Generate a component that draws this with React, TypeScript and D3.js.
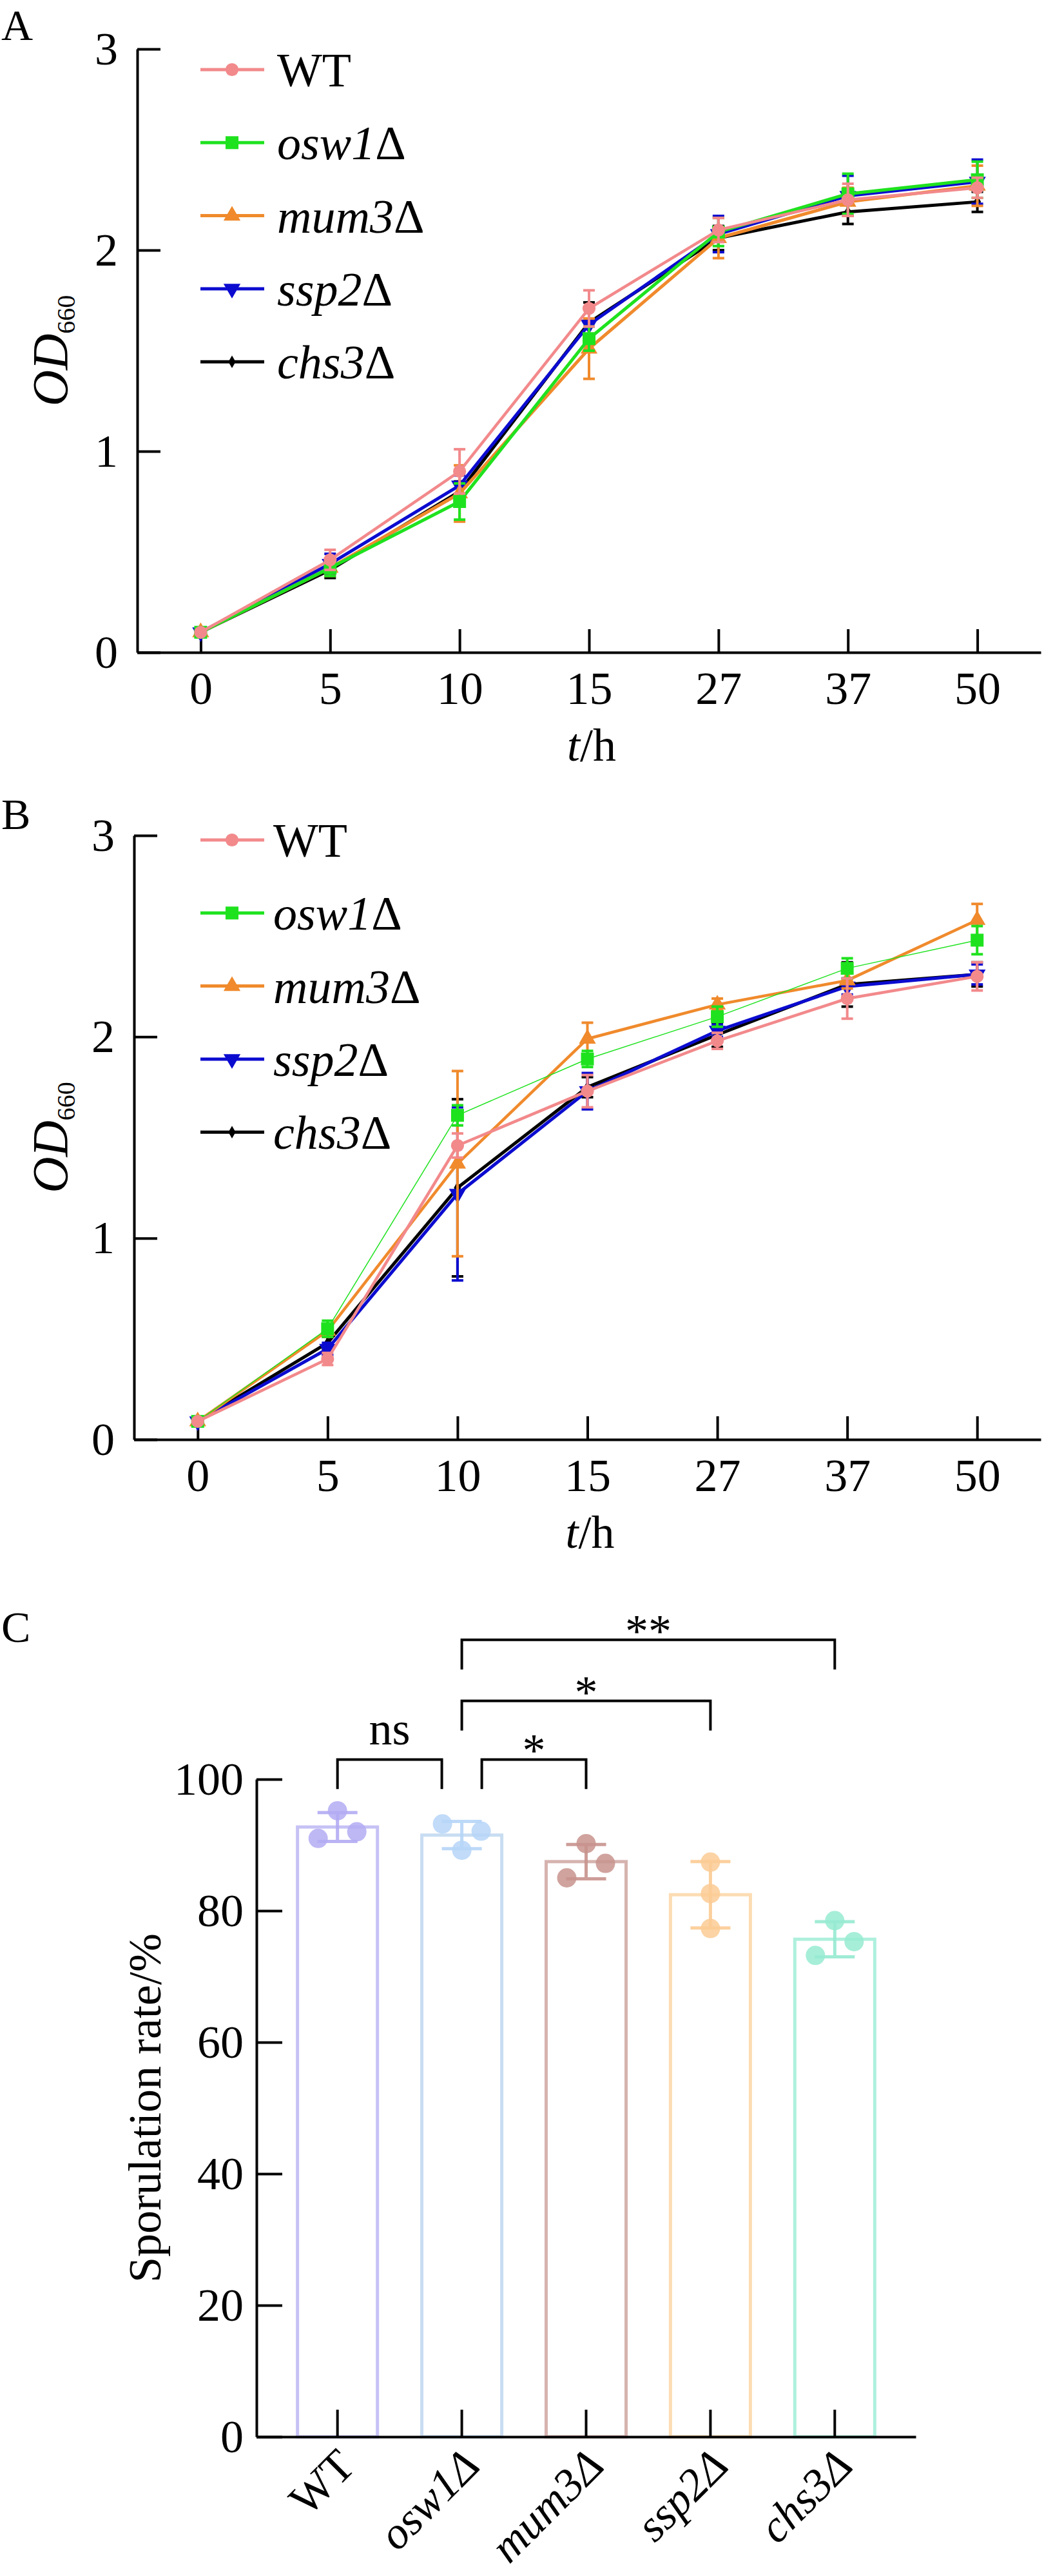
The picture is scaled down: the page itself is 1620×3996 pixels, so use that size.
import React, { useEffect, useRef } from "react";
import * as d3 from "d3";

const FONT = "'Liberation Serif', 'Times New Roman', serif";

// shared
const timePoints = ["0", "5", "10", "15", "27", "37", "50"];
const strains = ["WT", "osw1Δ", "mum3Δ", "ssp2Δ", "chs3Δ"];
const lineColors = ["#f2898b", "#1fe21f", "#f08a2c", "#0b0bd0", "#000000"];

// panel A, OD660 means
const aWT = [0.1, 0.46, 0.9, 1.71, 2.1, 2.25, 2.31];
const aOsw1 = [0.1, 0.42, 0.75, 1.56, 2.09, 2.28, 2.35];
const aMum3 = [0.1, 0.42, 0.79, 1.51, 2.06, 2.24, 2.32];
const aSsp2 = [0.1, 0.44, 0.83, 1.63, 2.08, 2.27, 2.34];
const aChs3 = [0.1, 0.41, 0.8, 1.64, 2.06, 2.19, 2.24];
// panel A, SD
const aWTsd = [0.01, 0.05, 0.11, 0.09, 0.06, 0.08, 0.05];
const aOsw1sd = [0.01, 0.04, 0.09, 0.06, 0.07, 0.1, 0.09];
const aMum3sd = [0.01, 0.04, 0.14, 0.15, 0.1, 0.07, 0.1];
const aSsp2sd = [0.01, 0.05, 0.05, 0.08, 0.09, 0.1, 0.11];
const aChs3sd = [0.01, 0.04, 0.05, 0.1, 0.06, 0.06, 0.05];

// panel B, OD660 means
const bWT = [0.09, 0.4, 1.46, 1.73, 1.98, 2.19, 2.3];
const bOsw1 = [0.09, 0.55, 1.61, 1.89, 2.1, 2.34, 2.48];
const bMum3 = [0.09, 0.54, 1.37, 1.99, 2.16, 2.28, 2.58];
const bSsp2 = [0.09, 0.45, 1.22, 1.73, 2.03, 2.25, 2.31];
const bChs3 = [0.09, 0.48, 1.25, 1.75, 2.01, 2.26, 2.31];
// panel B, SD
const bWTsd = [0.01, 0.03, 0.06, 0.08, 0.04, 0.1, 0.07];
const bOsw1sd = [0.01, 0.04, 0.05, 0.04, 0.05, 0.05, 0.07];
const bMum3sd = [0.01, 0.03, 0.46, 0.08, 0.03, 0.04, 0.08];
const bSsp2sd = [0.01, 0.03, 0.43, 0.09, 0.03, 0.04, 0.05];
const bChs3sd = [0.01, 0.03, 0.44, 0.05, 0.06, 0.11, 0.06];

// panel C, sporulation rate replicates (%)
const cWT = [95.2, 91.0, 92.0];
const cOsw1 = [93.2, 92.1, 89.2];
const cMum3 = [90.2, 87.2, 85.0];
const cSsp2 = [87.4, 82.6, 77.3];
const cChs3 = [78.5, 75.3, 73.2];
const dotSlots = [
  [0, -1, 1],
  [-1, 1, 0],
  [0, 1, -1],
  [0, 0, 0],
  [0, 1, -1],
];
const barStroke = ["#c6c2f5", "#c8ddf2", "#d6b3af", "#fcdcb3", "#aef0dd"];
const dotFill = ["#b3abf3", "#b6d5f8", "#c8938d", "#fccb94", "#96ebd1"];

// significance
const sigPairs = [
  ["WT", "osw1Δ"],
  ["osw1Δ", "mum3Δ"],
  ["osw1Δ", "ssp2Δ"],
  ["osw1Δ", "chs3Δ"],
];
const sigLabels = ["ns", "*", "*", "**"];
const sigLevels = [103, 103, 111.9, 121.2];

function strainText(sel: any, name: string, italicDelta: boolean) {
  if (name === "WT") {
    sel.append("tspan").text(name);
    return;
  }
  sel.append("tspan").attr("font-style", "italic").text(name.slice(0, -1));
  sel
    .append("tspan")
    .attr("font-style", italicDelta ? "italic" : "normal")
    .text("Δ");
}

function addMarker(g: any, i: number, cx: number, cy: number, color: string) {
  const types = [
    d3.symbolCircle,
    d3.symbolSquare,
    d3.symbolTriangle,
    d3.symbolTriangle,
    d3.symbolDiamond,
  ];
  const sizes = [320, 400, 300, 300, 110];
  g.append("path")
    .attr("d", d3.symbol().type(types[i]).size(sizes[i])() as string)
    .attr(
      "transform",
      `translate(${cx},${cy})${i === 3 ? " rotate(180)" : ""}`
    )
    .attr("fill", color);
}

function styleAxis(a: any) {
  a.attr("font-size", 72).attr("font-family", FONT);
  a.selectAll("path,line").attr("stroke", "#000").attr("stroke-width", 4);
  a.selectAll("text").attr("fill", "#000");
}

function drawGrowth(svg: any, p: any) {
  const x = d3
    .scalePoint<string>()
    .domain(timePoints)
    .range([p.left, p.right])
    .padding(0.49);
  const y = d3.scaleLinear().domain([0, 3]).range([p.bottom, p.top]);
  const g = svg.append("g");

  const xAxis = g
    .append("g")
    .attr("transform", `translate(0,${p.bottom})`)
    .call(
      d3.axisBottom(x).tickSizeInner(-36).tickSizeOuter(0).tickPadding(29)
    );
  const yAxis = g
    .append("g")
    .attr("transform", `translate(${p.left},0)`)
    .call(
      d3
        .axisLeft(y)
        .tickValues([0, 1, 2, 3])
        .tickFormat(d3.format("d"))
        .tickSizeInner(-36)
        .tickSizeOuter(0)
        .tickPadding(30)
    );
  styleAxis(xAxis);
  styleAxis(yAxis);

  const line = d3
    .line<number>()
    .x((_, i) => x(timePoints[i]) as number)
    .y((d) => y(d));

  const order = [4, 3, 2, 1, 0];
  order.forEach((s) => {
    const m = p.means[s];
    const sd = p.sds[s];
    const col = lineColors[s];
    const eg = g.append("g").attr("stroke", col).attr("stroke-width", 4);
    m.forEach((v: number, i: number) => {
      const cx = x(timePoints[i]) as number;
      const lo = y(v - sd[i]);
      const hi = y(v + sd[i]);
      eg.append("line").attr("x1", cx).attr("x2", cx).attr("y1", lo).attr("y2", hi);
      eg.append("line").attr("x1", cx - 9).attr("x2", cx + 9).attr("y1", lo).attr("y2", lo);
      eg.append("line").attr("x1", cx - 9).attr("x2", cx + 9).attr("y1", hi).attr("y2", hi);
    });
    g.append("path")
      .datum(m)
      .attr("d", line)
      .attr("fill", "none")
      .attr("stroke", col)
      .attr("stroke-width", p.widths[s])
      .attr("stroke-linejoin", "round");
    m.forEach((v: number, i: number) =>
      addMarker(g, s, x(timePoints[i]) as number, y(v), col)
    );
  });

  // legend
  const lg = g.append("g");
  strains.forEach((name, i) => {
    const ly = p.legendY + i * 113.3;
    lg.append("line")
      .attr("x1", 311)
      .attr("x2", 410)
      .attr("y1", ly)
      .attr("y2", ly)
      .attr("stroke", lineColors[i])
      .attr("stroke-width", 5);
    addMarker(lg, i, 360, ly, lineColors[i]);
    const t = lg
      .append("text")
      .attr("x", p.legendTextX)
      .attr("y", ly)
      .attr("dy", "0.35em")
      .attr("font-size", 74)
      .attr("font-family", FONT);
    strainText(t, name, false);
  });

  // axis titles
  const od = g
    .append("text")
    .attr("transform", `translate(104,${(p.top + p.bottom) / 2}) rotate(-90)`)
    .attr("text-anchor", "middle")
    .attr("font-family", FONT);
  od.append("tspan").attr("font-style", "italic").attr("font-size", 78).text("OD");
  od.append("tspan").attr("font-size", 40).attr("dy", 12).text("660");

  const th = g
    .append("text")
    .attr("x", (p.left + p.right) / 2 + 4)
    .attr("y", p.bottom + 168)
    .attr("text-anchor", "middle")
    .attr("font-size", 72)
    .attr("font-family", FONT);
  th.append("tspan").attr("font-style", "italic").text("t");
  th.append("tspan").text("/h");

  g.append("text")
    .attr("x", 2)
    .attr("y", p.panelY)
    .attr("font-size", 68)
    .attr("font-family", FONT)
    .text(p.panel);
}

function drawSporulation(svg: any) {
  const reps = [cWT, cOsw1, cMum3, cSsp2, cChs3];
  const left = 398;
  const right = 1421;
  const bottom = 3780;
  const top = 2760;
  const x = d3
    .scaleBand<string>()
    .domain(strains)
    .range([left, right])
    .paddingInner(0.357)
    .paddingOuter(0.33);
  const y = d3.scaleLinear().domain([0, 100]).range([bottom, top]);
  const bw = x.bandwidth();
  const g = svg.append("g");

  strains.forEach((s, i) => {
    const vals = reps[i];
    const mean = d3.mean(vals) as number;
    const sd = d3.deviation(vals) as number;
    const cx = (x(s) as number) + bw / 2;
    g.append("rect")
      .attr("x", x(s) as number)
      .attr("y", y(mean))
      .attr("width", bw)
      .attr("height", y(0) - y(mean))
      .attr("fill", "#fff")
      .attr("stroke", barStroke[i])
      .attr("stroke-width", 5);
    const eg = g
      .append("g")
      .attr("stroke", dotFill[i])
      .attr("stroke-width", 5)
      .attr("opacity", 0.9);
    eg.append("line").attr("x1", cx).attr("x2", cx).attr("y1", y(mean - sd)).attr("y2", y(mean + sd));
    [mean - sd, mean + sd].forEach((v) =>
      eg.append("line").attr("x1", cx - 31).attr("x2", cx + 31).attr("y1", y(v)).attr("y2", y(v))
    );
    vals.forEach((v, k) =>
      g.append("circle")
        .attr("cx", cx + dotSlots[i][k] * 30)
        .attr("cy", y(v))
        .attr("r", 15)
        .attr("fill", dotFill[i])
        .attr("opacity", 0.85)
    );
  });

  const xAxis = g
    .append("g")
    .attr("transform", `translate(0,${bottom})`)
    .call(
      d3
        .axisBottom(x)
        .tickSizeInner(-42)
        .tickSizeOuter(0)
        .tickFormat(() => "")
    );
  const yAxis = g
    .append("g")
    .attr("transform", `translate(${left},0)`)
    .call(
      d3
        .axisLeft(y)
        .tickValues([0, 20, 40, 60, 80, 100])
        .tickSizeInner(-40)
        .tickSizeOuter(0)
        .tickPadding(20)
    );
  styleAxis(xAxis);
  styleAxis(yAxis);

  strains.forEach((s) => {
    const cx = (x(s) as number) + bw / 2;
    const t = g
      .append("text")
      .attr("transform", `translate(${cx - 4},${bottom + 14}) rotate(-45)`)
      .attr("text-anchor", "end")
      .attr("dy", "0.7em")
      .attr("font-size", 70)
      .attr("font-family", FONT);
    strainText(t, s, true);
  });

  // significance brackets
  const insets = [
    [0, -1],
    [1, 0],
    [0, 0],
    [0, 0],
  ];
  sigPairs.forEach((pair, i) => {
    const x1 = (x(pair[0]) as number) + bw / 2 + insets[i][0] * bw * 0.25;
    const x2 = (x(pair[1]) as number) + bw / 2 + insets[i][1] * bw * 0.25;
    const yl = y(sigLevels[i]);
    const yb = y(sigLevels[i] - 4.5);
    g.append("path")
      .attr("d", `M${x1},${yb}V${yl}H${x2}V${yb}`)
      .attr("fill", "none")
      .attr("stroke", "#000")
      .attr("stroke-width", 4);
    g.append("text")
      .attr("x", (x1 + x2) / 2)
      .attr("y", sigLabels[i] === "ns" ? yl - 23 : yl + 10)
      .attr("text-anchor", "middle")
      .attr("font-size", 72)
      .attr("font-family", FONT)
      .text(sigLabels[i]);
  });

  g.append("text")
    .attr("transform", `translate(249,${(top + bottom) / 2}) rotate(-90)`)
    .attr("text-anchor", "middle")
    .attr("font-size", 72)
    .attr("font-family", FONT)
    .text("Sporulation rate/%");

  g.append("text")
    .attr("x", 2)
    .attr("y", 2547)
    .attr("font-size", 68)
    .attr("font-family", FONT)
    .text("C");
}

const App: React.FC = () => {
  const ref = useRef<SVGSVGElement>(null);

  useEffect(() => {
    const svg = d3.select(ref.current);
    svg.selectAll("*").remove();

    drawGrowth(svg, {
      left: 213,
      right: 1615,
      top: 76,
      bottom: 1012,
      means: [aWT, aOsw1, aMum3, aSsp2, aChs3],
      sds: [aWTsd, aOsw1sd, aMum3sd, aSsp2sd, aChs3sd],
      widths: [4.5, 5, 5, 5, 5],
      legendY: 108,
      legendTextX: 430,
      panel: "A",
      panelY: 62,
    });
    drawGrowth(svg, {
      left: 208,
      right: 1615,
      top: 1296,
      bottom: 2233,
      means: [bWT, bOsw1, bMum3, bSsp2, bChs3],
      sds: [bWTsd, bOsw1sd, bMum3sd, bSsp2sd, bChs3sd],
      widths: [4.5, 1.5, 4.5, 5, 5],
      legendY: 1303,
      legendTextX: 424,
      panel: "B",
      panelY: 1286,
    });
    drawSporulation(svg);
  }, []);

  return (
    <svg
      ref={ref}
      width={1620}
      height={3996}
      style={{ position: "absolute", left: 0, top: 0, background: "#fff" }}
    />
  );
};

export default App;
